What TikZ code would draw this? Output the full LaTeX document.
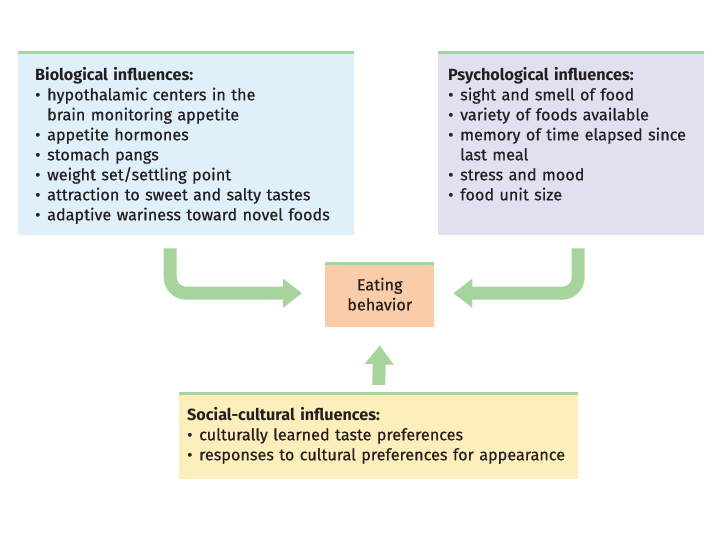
\documentclass[tikz,border=0pt]{standalone}
\usepackage{fontspec}
\setmainfont{Fira Sans}[UprightFeatures={FakeBold=0.5}]
\usetikzlibrary{arrows.meta}

\definecolor{biofill}{RGB}{224,240,251}
\definecolor{psyfill}{RGB}{224,224,240}
\definecolor{eatfill}{RGB}{250,204,168}
\definecolor{socfill}{RGB}{253,239,188}
\definecolor{barcol}{RGB}{168,212,160}
\definecolor{arrcol}{RGB}{166,212,156}
\definecolor{textcol}{RGB}{35,31,32}

% one bullet line, hanging indent for the wrapped part
\newcommand{\bitem}[1]{\par\hangindent=12pt\hangafter=1\noindent\makebox[12pt][l]{\textbullet}#1}

\begin{document}
\begin{tikzpicture}[x=1pt, y=-1pt,
	box/.style={inner sep=0pt, anchor=north west},
	txt/.style={inner sep=0pt, anchor=north west, align=left, text=textcol, font=\fontsize{16.2}{20}\selectfont},
	topbar/.style={draw=barcol, line width=3pt},
	flow/.style={draw=arrcol, line width=13pt, rounded corners=16pt, -{Triangle[width=28pt,length=19pt]}}]
	\useasboundingbox (0,0) rectangle (720,540);
	
	\node[box, fill=biofill, minimum width=336pt, minimum height=182pt] (bio) at (18,53){};
	\node[box, fill=psyfill, minimum width=266pt, minimum height=182pt] (psy) at (438,53){};
	\node[box, fill=eatfill, minimum width=109pt, minimum height=64pt] (eat) at (325,263){};
	\node[box, fill=socfill, minimum width=399pt, minimum height=86pt] (soc) at (179,393){};
	
	\draw[topbar] (bio.north west) -- (bio.north east);
	\draw[topbar] (psy.north west) -- (psy.north east);
	\draw[topbar] (eat.north west) -- (eat.north east);
	\draw[topbar] (soc.north west) -- (soc.north east);
	
	\node[txt, text width=318pt] (biotxt) at ([xshift=17pt, yshift=-14pt]bio.north west){\textbf{Biological influences:}
		\bitem{hypothalamic centers in the\hfil\break brain monitoring appetite}
		\bitem{appetite hormones}
		\bitem{stomach pangs}
		\bitem{weight set/settling point}
		\bitem{attraction to sweet and salty tastes}
		\bitem{adaptive wariness toward novel foods}};
	\node[txt, text width=258pt] (psytxt) at ([xshift=10pt, yshift=-14pt]psy.north west){\textbf{Psychological influences:}
		\bitem{sight and smell of food}
		\bitem{variety of foods available}
		\bitem{memory of time elapsed since\hfil\break last meal}
		\bitem{stress and mood}
		\bitem{food unit size}};
	\node[txt, text width=392pt] (soctxt) at ([xshift=8pt, yshift=-14pt]soc.north west){\textbf{Social-cultural influences:}
		\bitem{culturally learned taste preferences}
		\bitem{responses to cultural preferences for appearance}};
	\node[txt, anchor=center, align=center] (eattxt) at ([yshift=1pt]eat.center){Eating\\behavior};
	
	% the three arrows into eating behavior
	\coordinate (bioout) at ([xshift=-16pt, yshift=-13pt]bio.south);
	\coordinate (biotip) at ([xshift=-23pt, yshift=2pt]eat.west);
	\coordinate (psyout) at ([xshift=7pt, yshift=-13pt]psy.south);
	\coordinate (psytip) at ([xshift=19pt, yshift=2pt]eat.east);
	\coordinate (socout) at ([yshift=8pt]soc.north);
	\coordinate (soctip) at ([yshift=-18pt]eat.south);
	
	\draw[flow] (bioout) |- (biotip);
	\draw[flow] (psyout) |- (psytip);
	\draw[flow] (socout) -- (soctip);
\end{tikzpicture}
\end{document}
